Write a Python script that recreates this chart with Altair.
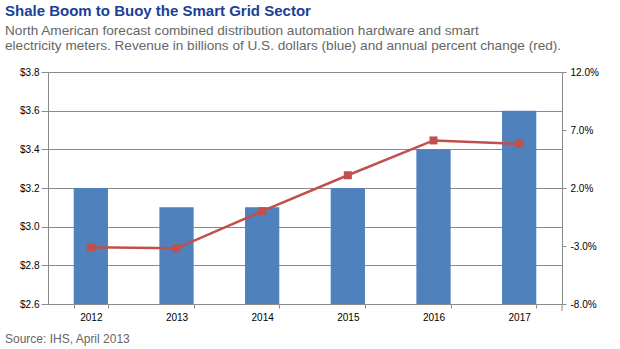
import altair as alt
import pandas as pd

years = ["2012", "2013", "2014", "2015", "2016", "2017"]
revenue = [3.2, 3.1, 3.1, 3.2, 3.4, 3.6]
pct_change = [-3.1, -3.2, 0.0, 3.1, 6.1, 5.8]

title_text = "Shale Boom to Buoy the Smart Grid Sector"
subtitle_lines = [
    "North American forecast combined distribution automation hardware and smart",
    "electricity meters. Revenue in billions of U.S. dollars (blue) and annual percent change (red).",
]
source_text = "Source: IHS, April 2013"

left_ticks = [2.6, 2.8, 3.0, 3.2, 3.4, 3.6, 3.8]
right_ticks = [-8, -3, 2, 7, 12]

df = pd.DataFrame({"year": years, "revenue": revenue, "pct": pct_change})

FONT = "Liberation Sans"
GRAY = "#8a8a8a"

x_enc = alt.X(
    "year:N",
    title=None,
    scale=alt.Scale(paddingInner=0.6, paddingOuter=0.3),
    axis=alt.Axis(
        labelAngle=0, labelFont=FONT, labelFontSize=10, labelColor="#000000",
        domainColor=GRAY, tickColor=GRAY, tickSize=4, tickBand="extent",
        labelPadding=4, grid=False,
    ),
)

bars = alt.Chart(df).mark_bar(color="#4f81bd").encode(
    x=x_enc,
    y=alt.Y(
        "revenue:Q",
        title=None,
        scale=alt.Scale(domain=[2.6, 3.8], zero=False, nice=False),
        axis=alt.Axis(
            values=left_ticks, format="$.1f", labelFont=FONT, labelFontSize=10,
            labelColor="#000000", domainColor=GRAY, tickColor=GRAY, tickSize=7,
            gridColor=GRAY, gridWidth=1, labelPadding=2, grid=True,
        ),
    ),
    y2=alt.Y2(datum=2.6),
)

line = alt.Chart(df).mark_line(
    color="#c0504d", strokeWidth=2.5,
    point=alt.OverlayMarkDef(shape="square", size=64, filled=True, color="#c0504d", opacity=1),
).encode(
    x=alt.X("year:N"),
    y=alt.Y(
        "pct:Q",
        title=None,
        scale=alt.Scale(domain=[-8, 12], zero=False, nice=False),
        axis=alt.Axis(
            orient="right", values=right_ticks,
            labelExpr="(datum.value < 0 ? '-' : '') + format(abs(datum.value), '.1f') + '%'",
            labelFont=FONT, labelFontSize=10, labelColor="#000000",
            domainColor=GRAY, tickColor=GRAY, tickSize=4, labelPadding=4, grid=False,
        ),
    ),
)

one = alt.Data(values=[{"k": 1}])

# small extension of the right axis line below the plot, as in the reference
axis_ext = alt.Chart(one).mark_rule(color=GRAY, strokeWidth=1).encode(
    x=alt.value(514), y=alt.value(232), y2=alt.value(239)
)

title_mark = alt.Chart(one).mark_text(
    text=title_text, font=FONT, fontSize=15, fontWeight="bold", color="#1a3f96",
    align="left", baseline="alphabetic",
).encode(x=alt.value(-43), y=alt.value(16 - 72))

sub_mark = alt.Chart(one).mark_text(
    text=subtitle_lines, font=FONT, fontSize=13.6, color="#666666",
    align="left", baseline="alphabetic", lineHeight=15,
).encode(x=alt.value(-43), y=alt.value(35 - 72))

source_mark = alt.Chart(one).mark_text(
    text=source_text, font=FONT, fontSize=12, color="#666666",
    align="left", baseline="alphabetic",
).encode(x=alt.value(-43), y=alt.value(343 - 72))

chart = alt.layer(bars, line, axis_ext, title_mark, sub_mark, source_mark).resolve_scale(
    y="independent"
).properties(
    width=514, height=232, autosize="none",
    padding={"left": 48, "top": 72, "right": 58, "bottom": 45},
).configure_view(strokeWidth=0)

chart.save("out.html", embed_options={"renderer": "svg", "actions": False})
